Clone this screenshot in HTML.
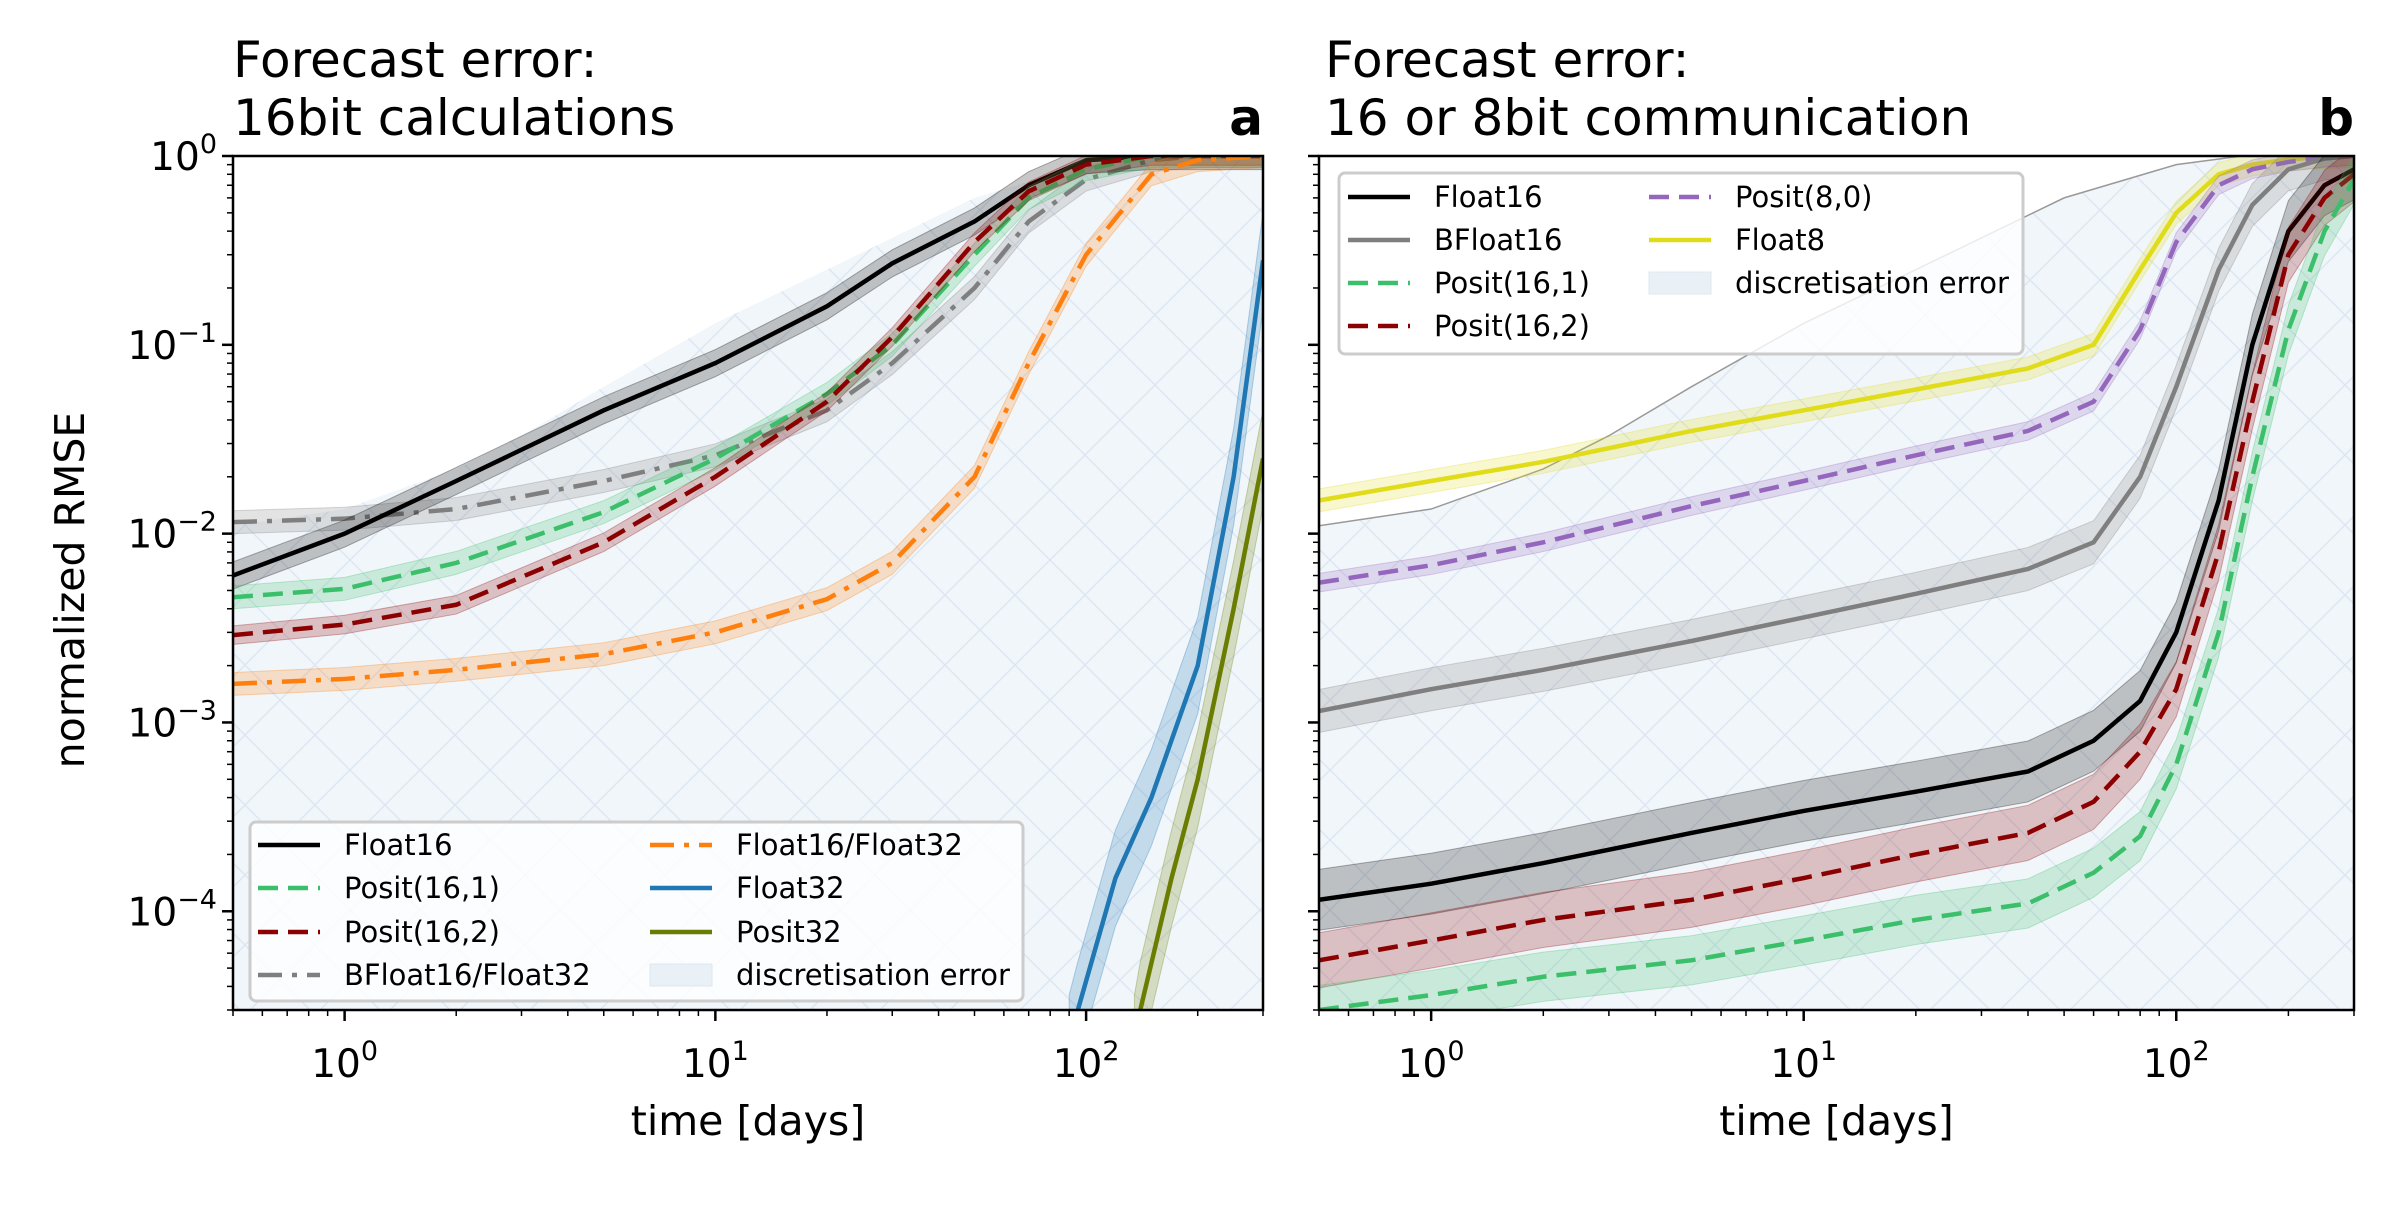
<!DOCTYPE html>
<html><head><meta charset="utf-8"><style>
body{margin:0;background:#fff;}
svg text{font-family:"DejaVu Sans","Liberation Sans",sans-serif;fill:#000;}
</style></head><body>
<svg id="chart" width="2400" height="1200" viewBox="0 0 2400 1200" xmlns="http://www.w3.org/2000/svg">
<defs>
<pattern id="hatch" patternUnits="userSpaceOnUse" width="70" height="70">
<rect width="70" height="70" fill="#f1f6fa"/>
<path d="M0,0L70,70M70,0L0,70" stroke="#dde6f2" stroke-width="1.5"/>
</pattern>
<clipPath id="clipA"><rect x="233" y="156" width="1030" height="854"/></clipPath>
<clipPath id="clipB"><rect x="1319" y="156" width="1035" height="854"/></clipPath>
</defs>
<g id="panelA"></g><g id="panelB"></g>
</svg>
<script>
// ---- data (days, normalized RMSE) ----
const xs = [0.5,1,2,5,10,20,30,50,70,100,150,200,300];
const discX = [0.5,1,2,3,5,10,20,50,100,150,300];
const discY = [1.1e-2,1.35e-2,2.2e-2,3.3e-2,6e-2,0.13,0.25,0.6,0.9,1,1];
// panel a
const aFloat16 = [6e-3,1e-2,1.9e-2,4.5e-2,8e-2,0.16,0.27,0.45,0.7,0.95,1,1,1];
const aPosit161 = [4.6e-3,5.1e-3,7e-3,1.3e-2,2.5e-2,5.5e-2,0.1,0.3,0.6,0.85,1,1,1];
const aPosit162 = [2.9e-3,3.3e-3,4.2e-3,9e-3,2e-2,5e-2,0.11,0.35,0.65,0.9,1,1,1];
const aBF16F32 = [1.15e-2,1.2e-2,1.35e-2,1.9e-2,2.6e-2,4.5e-2,0.08,0.2,0.45,0.75,0.95,1,1];
const aF16F32 = [1.6e-3,1.7e-3,1.9e-3,2.3e-3,3e-3,4.5e-3,7e-3,2e-2,0.08,0.3,0.8,0.95,1];
const f32X = [90,95,120,150,200,250,300];
const aFloat32 = [2e-5,3e-5,1.5e-4,4e-4,2e-3,2e-2,0.28];
const p32X = [135,140,170,200,250,300];
const aPosit32 = [2e-5,3e-5,1.5e-4,5e-4,4e-3,2.5e-2];
// panel b
const xb = [0.5,1,2,5,10,20,40,60,80,100,130,160,200,250,300];
const bFloat16 = [1.15e-4,1.4e-4,1.8e-4,2.6e-4,3.4e-4,4.3e-4,5.5e-4,8e-4,1.3e-3,3e-3,1.5e-2,0.1,0.4,0.7,0.85];
const bBFloat16 = [1.15e-3,1.5e-3,1.9e-3,2.7e-3,3.6e-3,4.8e-3,6.5e-3,9e-3,2e-2,6e-2,0.25,0.55,0.85,0.97,1];
const bPosit161 = [3e-5,3.6e-5,4.5e-5,5.5e-5,7e-5,9e-5,1.1e-4,1.6e-4,2.5e-4,6e-4,3e-3,2e-2,0.12,0.4,0.75];
const bPosit162 = [5.5e-5,7e-5,9e-5,1.15e-4,1.5e-4,2e-4,2.6e-4,3.8e-4,7e-4,1.5e-3,8e-3,5e-2,0.3,0.6,0.8];
const bPosit80 = [5.5e-3,6.8e-3,9e-3,1.4e-2,1.9e-2,2.6e-2,3.5e-2,5e-2,0.12,0.35,0.7,0.85,0.93,0.98,1];
const bFloat8 = [1.5e-2,1.9e-2,2.4e-2,3.5e-2,4.5e-2,5.8e-2,7.5e-2,0.1,0.25,0.5,0.8,0.9,0.96,0.99,1];
const xTickLabels = ["0","1","2"];
const yTickLabels = ["0","\u22121","\u22122","\u22123","\u22124"];

const NS="http://www.w3.org/2000/svg";
const Y0=156,Y1=1010,YMIN=Math.log10(3e-5),YMAX=0;
const XMIN=Math.log10(0.5),XMAX=Math.log10(300);
function mk(tag,parent){const e=document.createElementNS(NS,tag);parent.appendChild(e);return e;}
function panel(g,L,R){
  const sx=v=>L+(Math.log10(v)-XMIN)/(XMAX-XMIN)*(R-L);
  const sy=v=>Y0+(YMAX-Math.log10(Math.max(v,1e-9)))/(YMAX-YMIN)*(Y1-Y0);
  return {g,L,R,sx,sy};
}
function draw(P,clip){
  const {g,L,R,sx,sy}=P;
  const c=mk('g',g);c.setAttribute('clip-path','url(#'+clip+')');
  P.c=c;
  let d='M'+sx(discX[0])+','+Y1;
  discX.forEach((x,i)=>d+='L'+sx(x)+','+sy(discY[i]));
  d+='L'+sx(discX[discX.length-1])+','+Y1+'Z';
  const f=mk('path',c);f.setAttribute('d',d);f.setAttribute('fill','url(#hatch)');
  
  return c;
}
function series(P,X,Y,color,dash,band,name,width){
  const {sx,sy,c}=P;
  let up='',lo='';
  X.forEach((x,i)=>{up+=(i?'L':'M')+sx(x)+','+sy(Math.min(Y[i]*band,1.2));});
  for(let i=X.length-1;i>=0;i--) lo+='L'+sx(X[i])+','+sy(Y[i]/band);
  const b=mk('path',c);b.setAttribute('d',up+lo+'Z');b.setAttribute('fill',color);b.setAttribute('fill-opacity','0.22');
  b.setAttribute('stroke',color);b.setAttribute('stroke-opacity','0.3');
  
  const l=mk('polyline',c);
  l.setAttribute('points',X.map((x,i)=>sx(x)+','+sy(Y[i])).join(' '));
  l.setAttribute('fill','none');l.setAttribute('stroke',color);l.setAttribute('stroke-width',width||4.5);
  if(dash)l.setAttribute('stroke-dasharray',dash);
  
}
function axes(P,showY){
  const {g,L,R,sx,sy}=P;
  const fr=mk('rect',g);fr.setAttribute('x',L);fr.setAttribute('y',Y0);fr.setAttribute('width',R-L);fr.setAttribute('height',Y1-Y0);
  fr.setAttribute('fill','none');fr.setAttribute('stroke','#000');fr.setAttribute('stroke-width',2.5);
  
  for(let e=-1;e<=2;e++)for(let m=1;m<10;m++){const v=m*Math.pow(10,e);if(v<0.5||v>300)continue;
    const x=sx(v);const t=mk('line',g);t.setAttribute('x1',x);t.setAttribute('x2',x);t.setAttribute('y1',Y1);t.setAttribute('y2',Y1+(m==1?11:6));t.setAttribute('stroke','#000');t.setAttribute('stroke-width',m==1?2.5:1.5);}
  xTickLabels.forEach((lab,i)=>{const x=sx(Math.pow(10,i));const t=mk('text',g);t.setAttribute('x',x);t.setAttribute('y',1077);t.setAttribute('text-anchor','middle');t.setAttribute('font-size','39');
    t.innerHTML='10<tspan dy="-17" font-size="27">'+lab+'</tspan>';
    });
  for(let e=-5;e<=0;e++)for(let m=1;m<10;m++){const v=m*Math.pow(10,e);if(v<3e-5||v>1)continue;
    const y=sy(v);const t=mk('line',g);t.setAttribute('x1',L);t.setAttribute('x2',L-(m==1?11:6));t.setAttribute('y1',y);t.setAttribute('y2',y);t.setAttribute('stroke','#000');t.setAttribute('stroke-width',m==1?2.5:1.5);}
  if(showY)yTickLabels.forEach((lab,i)=>{const y=sy(Math.pow(10,-i));const t=mk('text',g);t.setAttribute('x',L-16);t.setAttribute('y',y+14);t.setAttribute('text-anchor','end');t.setAttribute('font-size','39');
    t.innerHTML='10<tspan dy="-17" font-size="27">'+lab+'</tspan>';
    });
  const xl=mk('text',g);xl.setAttribute('x',(L+R)/2);xl.setAttribute('y',1135);xl.setAttribute('text-anchor','middle');xl.setAttribute('font-size','41');xl.textContent='time [days]';
  
}
function text(g,x,y,s,size,name,extra){const t=mk('text',g);t.setAttribute('x',x);t.setAttribute('y',y);t.setAttribute('font-size',size);t.textContent=s;
  if(extra)for(const k in extra)t.setAttribute(k,extra[k]);
  return t;}
function legend(g,x,y,w,h,items){
  const lg=mk('g',g);
  const r=mk('rect',lg);r.setAttribute('x',x);r.setAttribute('y',y);r.setAttribute('width',w);r.setAttribute('height',h);r.setAttribute('rx',6);
  r.setAttribute('fill','#fff');r.setAttribute('fill-opacity','0.8');r.setAttribute('stroke','#ccc');r.setAttribute('stroke-width',3);
  items.forEach(it=>{
    const e=mk('g',lg);
    if(it.c){const l=mk('line',e);l.setAttribute('x1',it.x);l.setAttribute('x2',it.x+62);l.setAttribute('y1',it.y);l.setAttribute('y2',it.y);
      l.setAttribute('stroke',it.c);l.setAttribute('stroke-width',4.5);if(it.d)l.setAttribute('stroke-dasharray',it.d);}
    else{const p=mk('rect',e);p.setAttribute('x',it.x);p.setAttribute('y',it.y-11);p.setAttribute('width',62);p.setAttribute('height',22);p.setAttribute('fill','#e9f1f7');p.setAttribute('stroke','#dde8f2');}
    text(e,it.x+86,it.y+10,it.t,29,'legend-label');
  });
}
// panel a
const gA=document.getElementById('panelA');
const A=panel(gA,233,1263);draw(A,'clipA');
series(A,xs,aBF16F32,'#7f7f7f','24,10,5,10',1.15,'bfloat16-float32');
series(A,xs,aFloat16,'#000000',null,1.18,'float16');
series(A,xs,aPosit161,'#3cbf6a','20,10',1.15,'posit-16-1');
series(A,xs,aPosit162,'#8b0000','20,10',1.12,'posit-16-2');
series(A,xs,aF16F32,'#ff7f0e','24,10,5,10',1.15,'float16-float32');
series(A,f32X,aFloat32,'#1f77b4',null,1.8,'float32');
series(A,p32X,aPosit32,'#6b7d00',null,1.8,'posit32');
axes(A,true);
text(gA,233,77,'Forecast error:',50,'panel-a-title-line1');
text(gA,233,135,'16bit calculations',50,'panel-a-title-line2');
text(gA,1263,135,'a',50,'panel-a-label',{'text-anchor':'end','font-weight':'bold'});
text(gA,0,0,'normalized RMSE',41,'y-axis-title',{'text-anchor':'middle','transform':'translate(84,590) rotate(-90)'});
legend(gA,250,822,773,179,[
 {x:258,y:845,c:'#000',t:'Float16'},{x:258,y:888,c:'#3cbf6a',d:'20,10',t:'Posit(16,1)'},
 {x:258,y:932,c:'#8b0000',d:'20,10',t:'Posit(16,2)'},{x:258,y:975,c:'#7f7f7f',d:'24,10,5,10',t:'BFloat16/Float32'},
 {x:650,y:845,c:'#ff7f0e',d:'24,10,5,10',t:'Float16/Float32'},{x:650,y:888,c:'#1f77b4',t:'Float32'},
 {x:650,y:932,c:'#6b7d00',t:'Posit32'},{x:650,y:975,t:'discretisation error'}]);
// panel b
const gB=document.getElementById('panelB');
const B=panel(gB,1319,2354);draw(B,'clipB');
const bl=mk('polyline',B.c);bl.setAttribute('points',discX.map((x,i)=>B.sx(x)+','+B.sy(discY[i])).join(' '));
bl.setAttribute('fill','none');bl.setAttribute('stroke','#999');bl.setAttribute('stroke-width',1.5);

series(B,xb,bFloat8,'#e0dc1a',null,1.15,'float8');
series(B,xb,bPosit80,'#9467bd','20,10',1.12,'posit-8-0');
series(B,xb,bBFloat16,'#7f7f7f',null,1.3,'bfloat16');
series(B,xb,bFloat16,'#000000',null,1.45,'float16-b');
series(B,xb,bPosit162,'#8b0000','20,10',1.4,'posit-16-2-b');
series(B,xb,bPosit161,'#3cbf6a','20,10',1.35,'posit-16-1-b');
axes(B,false);
text(gB,1325,77,'Forecast error:',50,'panel-b-title-line1');
text(gB,1325,135,'16 or 8bit communication',50,'panel-b-title-line2');
text(gB,2354,135,'b',50,'panel-b-label',{'text-anchor':'end','font-weight':'bold'});
legend(gB,1339,173,684,181,[
 {x:1348,y:197,c:'#000',t:'Float16'},{x:1348,y:240,c:'#7f7f7f',t:'BFloat16'},
 {x:1348,y:283,c:'#3cbf6a',d:'20,10',t:'Posit(16,1)'},{x:1348,y:326,c:'#8b0000',d:'20,10',t:'Posit(16,2)'},
 {x:1649,y:197,c:'#9467bd',d:'20,10',t:'Posit(8,0)'},{x:1649,y:240,c:'#e0dc1a',t:'Float8'},
 {x:1649,y:283,t:'discretisation error'}]);
</script>
</body></html>
